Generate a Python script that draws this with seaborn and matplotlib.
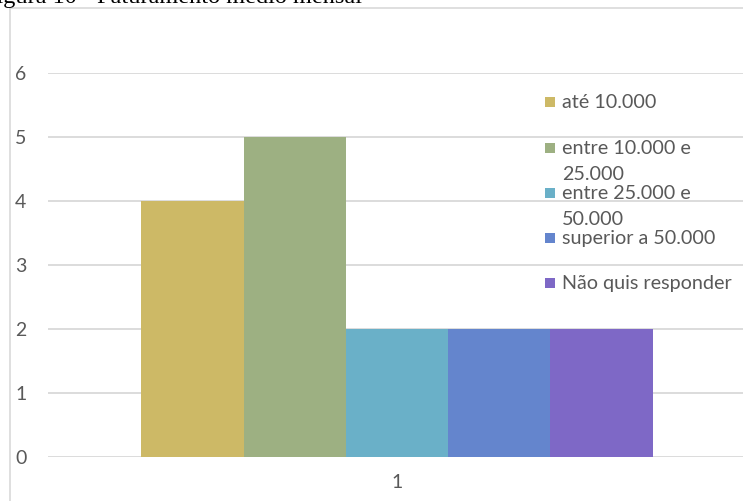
import matplotlib
matplotlib.use("Agg")
import matplotlib.pyplot as plt
from matplotlib.patches import Rectangle
import seaborn as sns
import pandas as pd

# Monthly revenue bands and number of respondents in each
faixas = ["até 10.000", "entre 10.000 e 25.000", "entre 25.000 e 50.000",
          "superior a 50.000", "Não quis responder"]
legend_labels = ["até 10.000", "entre 10.000 e\n25.000", "entre 25.000 e\n50.000",
                 "superior a 50.000", "Não quis responder"]
respostas = [4, 5, 2, 2, 2]
grupo = ["1"] * len(faixas)
cores = ["#CDB966", "#9DB082", "#6AB0C8", "#6485CD", "#7E68C6"]
y_ticks = [0, 1, 2, 3, 4, 5, 6]

df = pd.DataFrame({"grupo": grupo, "faixa": faixas, "respostas": respostas})

W, H = 743, 501
sns.set_theme(style="white")
plt.rcParams["font.family"] = ["Lato", "DejaVu Sans"]
fig = plt.figure(figsize=(W / 100, H / 100), dpi=100)


def fx(x):
    return x / W


def fy(y):
    return 1 - y / H


# chart-area frame
fig.patches.append(Rectangle((fx(10), fy(510)), fx(760) - fx(10), fy(8) - fy(510),
                             transform=fig.transFigure, fill=False,
                             edgecolor="#d9d9d9", linewidth=1.2, zorder=0))

# caption above the chart area
fig.text(fx(362), fy(3), "Figura 10 - Faturamento médio mensal",
         ha="right", va="baseline", fontsize=17.5, color="black",
         family=["Liberation Serif", "DejaVu Serif"])

ax = fig.add_axes([fx(48), fy(457), fx(746) - fx(48), fy(73) - fy(457)])
sns.barplot(data=df, x="grupo", y="respostas", hue="faixa", hue_order=faixas,
            palette=cores, width=0.733, gap=0, legend=False, ax=ax,
            saturation=1, edgecolor="none", linewidth=0)

ax.set_ylim(0, 6)
ax.set_xlim(-0.5, 0.5)
ax.set_yticks(y_ticks)
ax.yaxis.grid(True, color="#d9d9d9", linewidth=1.3)
ax.set_axisbelow(True)
for s in ax.spines.values():
    s.set_visible(False)
ax.set_xlabel("")
ax.set_ylabel("")
ax.tick_params(axis="y", length=0, pad=15.5, labelsize=14, labelcolor="#595959")
ax.tick_params(axis="x", length=0, pad=12.5, labelsize=14, labelcolor="#595959")
for lbl in ax.get_yticklabels():
    lbl.set_horizontalalignment("right")

# legend entries
leg_y = [102, 148, 193, 238, 283]
for lab, c, y in zip(legend_labels, cores, leg_y):
    fig.patches.append(Rectangle((fx(545), fy(y + 5)), fx(10), fy(0) - fy(10),
                                 transform=fig.transFigure, facecolor=c,
                                 edgecolor="none", zorder=5))
    fig.text(fx(562), fy(y - 8), lab, ha="left", va="top", fontsize=14.2,
             color="#595959", linespacing=1.62, zorder=6)

fig.savefig("out.png", dpi=100)
